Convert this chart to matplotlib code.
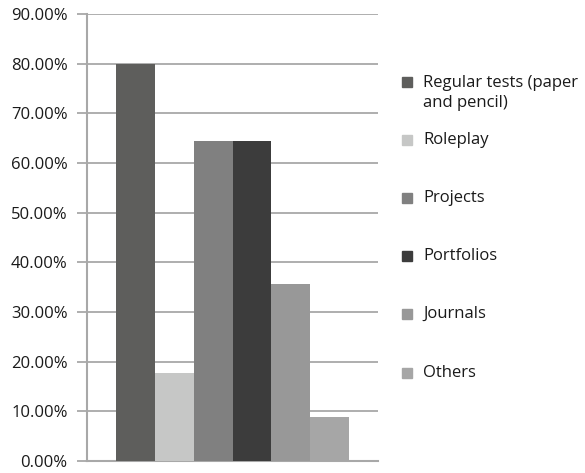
import matplotlib
matplotlib.use("Agg")
import matplotlib.pyplot as plt
from matplotlib.patches import Rectangle
from matplotlib.ticker import FuncFormatter

categories = ["Regular tests (paper\nand pencil)", "Roleplay", "Projects",
              "Portfolios", "Journals", "Others"]
values = [80.00, 17.78, 64.44, 64.44, 35.56, 8.89]
colors = ["#5e5e5c", "#c6c7c6", "#808080", "#3c3c3c", "#989898", "#a6a6a6"]
yticks = [0, 10, 20, 30, 40, 50, 60, 70, 80, 90]

plt.rcParams["font.family"] = ["Open Sans", "DejaVu Sans"]
W, H = 585, 473
fig = plt.figure(figsize=(W / 100, H / 100), dpi=100)
ax = fig.add_axes([87 / W, 1 - 461 / H, (378 - 87) / W, (461 - 14) / H])

grid_c = "#a8a8a8"
for i, (v, c) in enumerate(zip(values, colors)):
    ax.bar(i, v, width=1.0, color=c, zorder=3)

ax.set_xlim(-1.245, 6.245)
ax.set_ylim(0, 90)
ax.set_yticks(yticks)
ax.yaxis.set_major_formatter(FuncFormatter(lambda v, p: f"{v:.2f}%"))
ax.set_xticks([])
ax.grid(axis="y", color=grid_c, linewidth=1.3, zorder=0)
ax.tick_params(axis="y", length=7, width=1.3, color=grid_c, labelsize=12,
               labelcolor="#1a1a1a", pad=7)
for side in ["top", "right"]:
    ax.spines[side].set_visible(False)
for side in ["left", "bottom"]:
    ax.spines[side].set_color(grid_c)
    ax.spines[side].set_linewidth(1.5)

# legend drawn by hand to match the spacing of the original
leg_y = [82, 140, 198, 256, 314, 373]
for lab, c, y in zip(categories, colors, leg_y):
    fig.add_artist(Rectangle((402 / W, 1 - (y + 5) / H), 10 / W, 10 / H,
                             transform=fig.transFigure, color=c))
    fig.text(423 / W, 1 - (y - 7) / H if "\n" in lab else 1 - y / H, lab,
             fontsize=12, color="#1a1a1a",
             va="top" if "\n" in lab else "center",
             linespacing=1.3)

fig.savefig("out.png", dpi=100)
